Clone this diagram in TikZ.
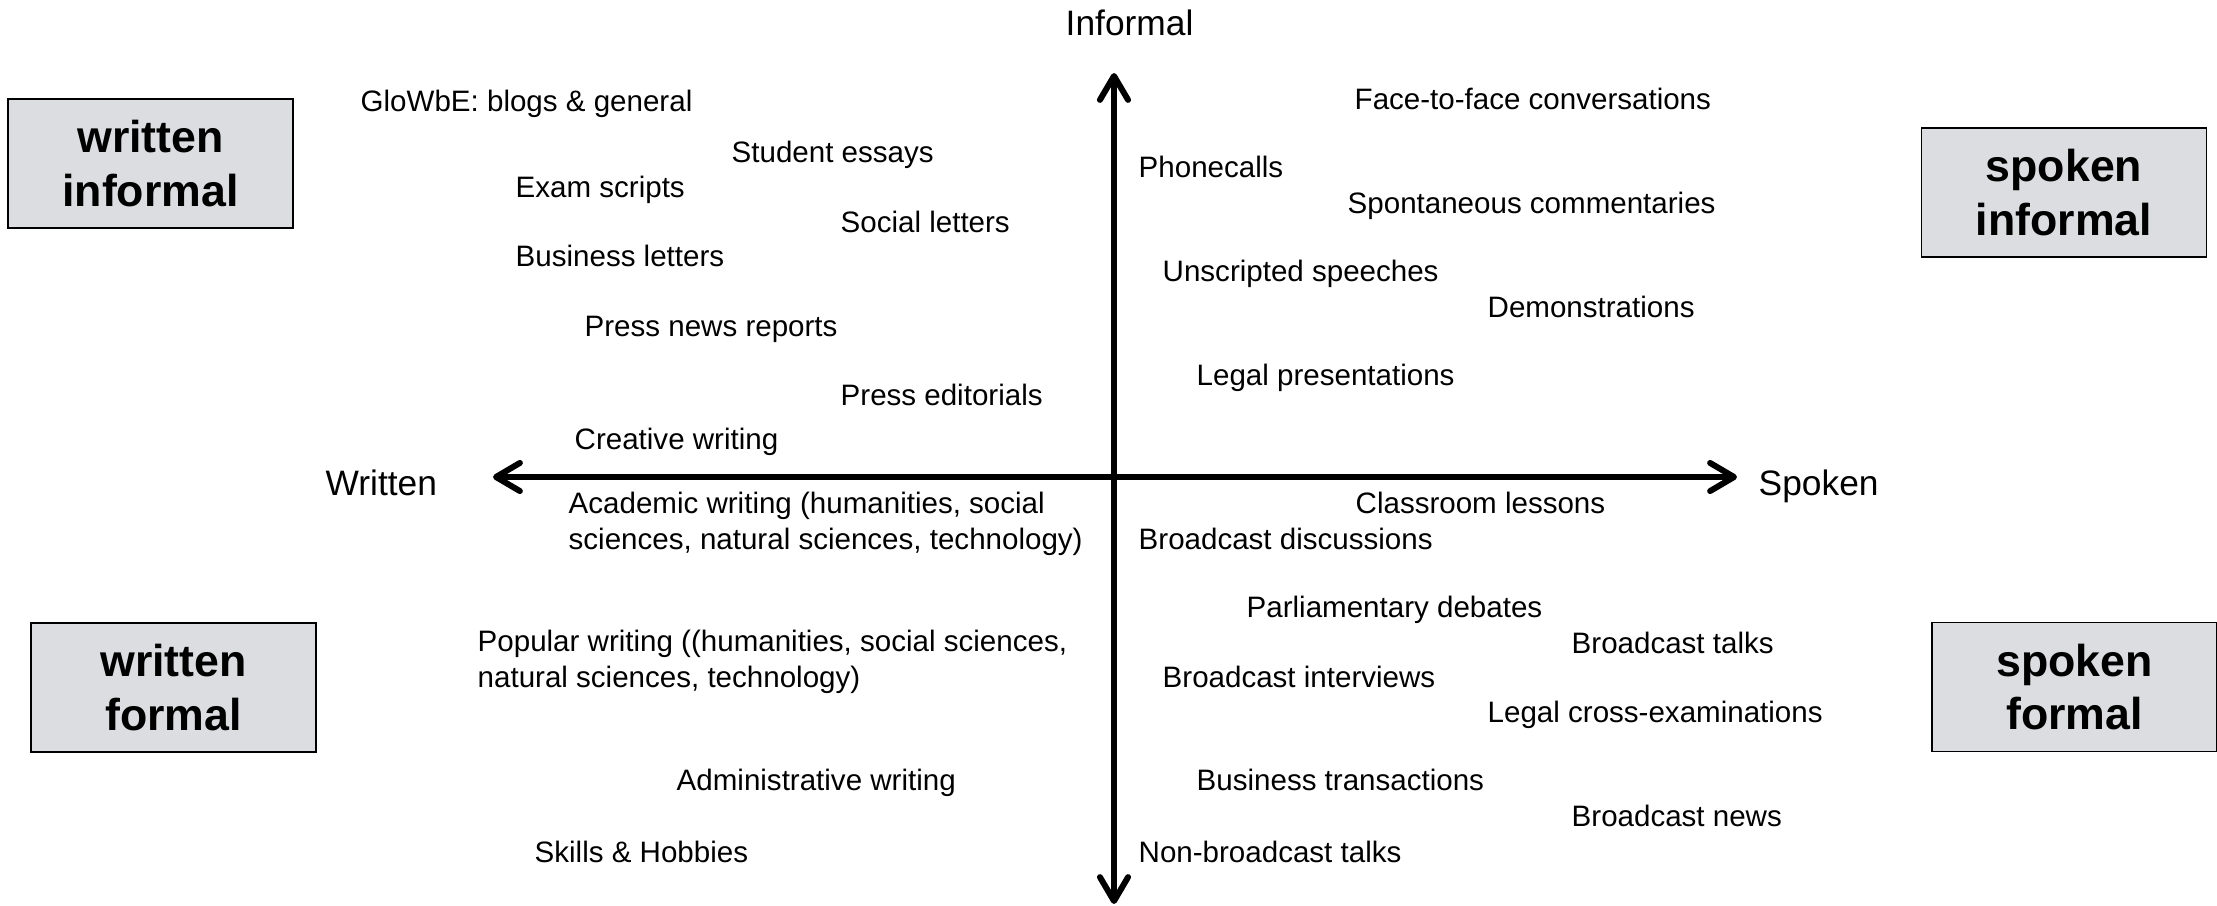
\documentclass[tikz,border=0pt]{standalone}
\usepackage{fontspec}
\setmainfont{Liberation Sans}
\usetikzlibrary{arrows.meta}
\definecolor{boxfill}{RGB}{219,221,225}
\newcommand\lblsize{\fontsize{8.4pt}{10pt}\selectfont}
\newcommand\axsize{\fontsize{10.05pt}{12pt}\selectfont}
\newcommand\boxsize{\fontsize{12.7pt}{15.1pt}\selectfont\bfseries}
\begin{document}
\begin{tikzpicture}[x=0.01cm,y=-0.01cm,
  lbl/.style={anchor=base west,inner sep=0pt,font=\lblsize,align=left},
  axlbl/.style={anchor=base west,inner sep=0pt,font=\axsize},
  quad/.style={draw=black,line width=0.5pt,fill=boxfill,minimum width=2.85cm,minimum height=1.29cm,inner sep=0pt,align=center,font=\boxsize},
  axis/.style={line width=1.7pt,{Straight Barb[length=6.8pt,width=8pt,line cap=round,line join=round]}-{Straight Barb[length=6.8pt,width=8pt,line cap=round,line join=round]}}]
\useasboundingbox (0,0) rectangle (2217,906);
% quadrant boxes
\node[quad] (wi) at (150.5,163.5) {written\\informal};
\node[quad] (si) at (2064,192.5) {spoken\\informal};
\node[quad] (wf) at (173.5,687.5) {written\\formal};
\node[quad] (sf) at (2074.5,687) {spoken\\formal};
% axes
\coordinate (top) at (1114,73);
\coordinate (bot) at (1114,904);
\coordinate (lft) at (493,477);
\coordinate (rgt) at (1737,477);
\draw[axis] (bot) -- (top);
\draw[axis] (lft) -- (rgt);
\node[axlbl] (informal) at (1065,35) {Informal};
\node[axlbl] (written) at (325,495) {Written};
\node[axlbl] (spoken) at (1758,495) {Spoken};
% written informal quadrant
\node[lbl] (glowbe) at (360,111) {GloWbE: blogs \& general};
\node[lbl] (student) at (731,162) {Student essays};
\node[lbl] (exam) at (515,197) {Exam scripts};
\node[lbl] (social) at (840,232) {Social letters};
\node[lbl] (busl) at (515,266) {Business letters};
\node[lbl] (pnews) at (584,336) {Press news reports};
\node[lbl] (pedit) at (840,405) {Press editorials};
\node[lbl] (creative) at (574,449) {Creative writing};
% written formal quadrant (base anchor = last line)
\node[lbl] (academic) at (568,549) {Academic writing (humanities, social\\sciences, natural sciences, technology)};
\node[lbl] (popular) at (477,687) {Popular writing ((humanities, social sciences,\\natural sciences, technology)};
\node[lbl] (admin) at (676,790) {Administrative writing};
\node[lbl] (skills) at (534,862) {Skills \& Hobbies};
% spoken informal quadrant
\node[lbl] (f2f) at (1354,110) {Face-to-face conversations};
\node[lbl] (phone) at (1138,177) {Phonecalls};
\node[lbl] (spont) at (1347,213) {Spontaneous commentaries};
\node[lbl] (unscr) at (1162,281) {Unscripted speeches};
\node[lbl] (demo) at (1487,317) {Demonstrations};
\node[lbl] (legalp) at (1196,385) {Legal presentations};
% spoken formal quadrant
\node[lbl] (class) at (1355,513) {Classroom lessons};
\node[lbl] (bdisc) at (1138,549) {Broadcast discussions};
\node[lbl] (parl) at (1246,617) {Parliamentary debates};
\node[lbl] (btalks) at (1571,653) {Broadcast talks};
\node[lbl] (binter) at (1162,687) {Broadcast interviews};
\node[lbl] (legalx) at (1487,722) {Legal cross-examinations};
\node[lbl] (btrans) at (1196,790) {Business transactions};
\node[lbl] (bnews) at (1571,826) {Broadcast news};
\node[lbl] (nonb) at (1138,862) {Non-broadcast talks};
\end{tikzpicture}
\end{document}
